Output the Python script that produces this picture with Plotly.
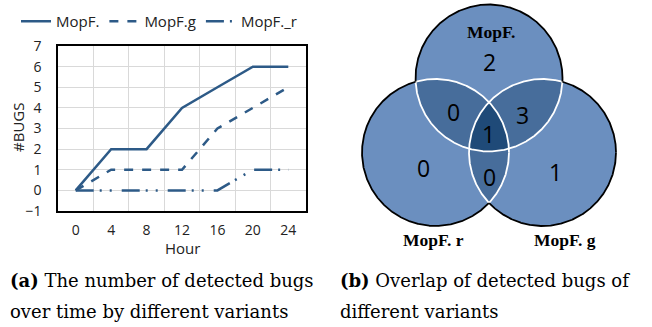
import numpy as np
import plotly.graph_objects as go

# ---------------- data ----------------
hours = [0, 4, 8, 12, 16, 20, 24]
bugs_mopf = [0, 2, 2, 4, 5, 6, 6]
bugs_mopf_g = [0, 1, 1, 1, 3, 4, 5]
bugs_mopf_r = [0, 0, 0, 0, 0, 1, 1]
series_names = ["MopF.", "MopF.g", "MopF._r"]
y_ticks = [-1, 0, 1, 2, 3, 4, 5, 6, 7]

venn_sets = ["MopF.", "MopF. r", "MopF. g"]
# region membership (indices into venn_sets) and counts
venn_regions = [(0,), (1,), (2,), (0, 1), (0, 2), (1, 2), (0, 1, 2)]
venn_counts = [2, 0, 1, 0, 3, 0, 1]

# ---------------- style / layout ----------------
W, H = 652, 327
LINE_COLOR = "#2d5a87"
FONT = "Open Sans"
GRID = "#d9d9d9"

fig = go.Figure()

dashes = ["solid", "dash", "18px,6px,2px,8px,2px,10px"]
for name, vals, dash in zip(series_names, [bugs_mopf, bugs_mopf_g, bugs_mopf_r], dashes):
    fig.add_trace(go.Scatter(
        x=hours, y=vals, mode="lines", name=name,
        line=dict(color=LINE_COLOR, width=2.5, dash=dash),
        xaxis="x", yaxis="y", showlegend=True))

# ---------------- Venn geometry (pixel space of subplot 2) ----------------
centers = [(489.0, 78.0), (435.5, 152.5), (542.5, 152.5)]
R = 73.5
single_col = "#6b8fbf"
pair_col = "#476d9b"
triple_col = "#1f4a78"

def inside(px, py, c, tol=1e-6):
    return (px - c[0]) ** 2 + (py - c[1]) ** 2 <= R * R + tol

def region_polygon(idxs):
    pts = []
    th = np.linspace(0, 2 * np.pi, 1441)
    for i in idxs:
        cx, cy = centers[i]
        xs = cx + R * np.cos(th)
        ys = cy + R * np.sin(th)
        mask = np.ones_like(xs, dtype=bool)
        for j in idxs:
            if j != i:
                mask &= inside(xs, ys, centers[j], tol=1.0)
        pts.extend(zip(xs[mask], ys[mask]))
    pts = np.array(pts)
    mx, my = pts[:, 0].mean(), pts[:, 1].mean()
    order = np.argsort(np.arctan2(pts[:, 1] - my, pts[:, 0] - mx))
    pts = pts[order]
    return list(pts[:, 0]) + [pts[0, 0]], list(pts[:, 1]) + [pts[0, 1]]

layers = [((0,), single_col), ((1,), single_col), ((2,), single_col),
          ((0, 1), pair_col), ((0, 2), pair_col), ((1, 2), pair_col),
          ((0, 1, 2), triple_col)]
for idxs, col in layers:
    xs, ys = region_polygon(idxs)
    fig.add_trace(go.Scatter(x=xs, y=ys, mode="lines", fill="toself",
                             fillcolor=col, line=dict(width=0, color=col),
                             hoverinfo="skip", showlegend=False,
                             xaxis="x2", yaxis="y2"))

# outlines: white inside other circles, black on the outer boundary
th = np.linspace(0, 2 * np.pi, 1441)
for want_inner, col in [(True, "white"), (False, "black")]:
    X, Y = [], []
    for i, (cx, cy) in enumerate(centers):
        xs = cx + R * np.cos(th)
        ys = cy + R * np.sin(th)
        m = np.zeros_like(xs, dtype=bool)
        for j, c in enumerate(centers):
            if j != i:
                m |= inside(xs, ys, c, tol=0.0)
        sel = m if want_inner else ~m
        for k in range(len(xs)):
            if sel[k]:
                X.append(xs[k]); Y.append(ys[k])
            else:
                X.append(None); Y.append(None)
        X.append(None); Y.append(None)
    fig.add_trace(go.Scatter(x=X, y=Y, mode="lines",
                             line=dict(color=col, width=1.8),
                             hoverinfo="skip", showlegend=False,
                             xaxis="x2", yaxis="y2", connectgaps=False))

# region count labels
count_pos = [(489, 62), (423, 168), (555, 172), (453, 112), (522, 115), (489, 177), (488, 134)]
for (px, py), n in zip(count_pos, venn_counts):
    fig.add_annotation(x=px, y=py, xref="x2", yref="y2", text=str(n),
                       xanchor="center", yanchor="middle",
                       showarrow=False, font=dict(family=FONT, size=23, color="black"))

set_label_pos = [(491, 32), (433, 240), (565, 240)]
for (px, py), name in zip(set_label_pos, venn_sets):
    fig.add_annotation(x=px, y=py, xref="x2", yref="y2", text="<b>%s</b>" % name,
                       xanchor="center", yanchor="middle", showarrow=False,
                       font=dict(family="Liberation Serif", size=17.5, color="black"))

# captions
cap_font = dict(family="DejaVu Serif", size=18, color="black")
captions = [
    (8, 280, "<b>(a)</b> The number of detected bugs"),
    (8, 311, "over time by different variants"),
    (338, 280, "<b>(b)</b> Overlap of detected bugs of"),
    (338, 311, "different variants"),
]
for px, py, t in captions:
    fig.add_annotation(x=px / W, y=1 - py / H, xref="paper", yref="paper",
                       xanchor="left", yanchor="middle", text=t, showarrow=False,
                       font=cap_font)

# axis titles
fig.add_annotation(x=182 / W, y=1 - 248 / H, xref="paper", yref="paper", text="Hour",
                   xanchor="center", yanchor="middle",
                   showarrow=False, font=dict(family=FONT, size=15, color="#222"))
fig.add_annotation(x=18 / W, y=1 - 128 / H, xref="paper", yref="paper", text="#BUGS",
                   xanchor="center", yanchor="middle",
                   textangle=-90, showarrow=False, font=dict(family=FONT, size=15, color="#222"))

fig.update_layout(
    width=W, height=H, autosize=False,
    margin=dict(l=0, r=0, t=0, b=0, pad=0),
    paper_bgcolor="white", plot_bgcolor="rgba(0,0,0,0)",
    font=dict(family=FONT, size=14, color="#222"),
    showlegend=True,
    legend=dict(orientation="h", x=16 / W, y=1 - 5 / H, xanchor="left", yanchor="top",
                font=dict(family=FONT, size=15, color="#222"),
                bgcolor="rgba(0,0,0,0)", itemwidth=30, tracegroupgap=0),
    xaxis=dict(domain=[58 / W, 306 / W], range=[-2, 26], tickmode="array",
               tickvals=hours, ticktext=[str(h) for h in hours], showgrid=False,
               zeroline=False, showline=True, linecolor="black", linewidth=1.5,
               mirror=True, ticks="", ticklabelstandoff=5, automargin=False,
               minor=dict(tickmode="array", tickvals=[2, 6, 10, 14, 18, 22],
                          showgrid=True, gridcolor=GRID, gridwidth=1, ticks=""),
               tickfont=dict(family=FONT, size=14, color="#222"), fixedrange=True),
    yaxis=dict(domain=[1 - 211 / H, 1 - 46 / H], range=[-1, 7], tickmode="array",
               tickvals=y_ticks, showgrid=True, gridcolor=GRID, gridwidth=1,
               zeroline=False, showline=True, linecolor="black", linewidth=1.5,
               mirror=True, ticks="", ticklabelstandoff=12, automargin=False,
               tickfont=dict(family=FONT, size=14, color="#222"), fixedrange=True),
    xaxis2=dict(domain=[330 / W, 1], range=[330, 652], visible=False, fixedrange=True),
    yaxis2=dict(domain=[0, 1], range=[327, 0], visible=False, fixedrange=True),
)

fig.write_html("out.html", config={"displayModeBar": False},
               post_script="document.body.style.margin='0';document.body.style.padding='0';")
